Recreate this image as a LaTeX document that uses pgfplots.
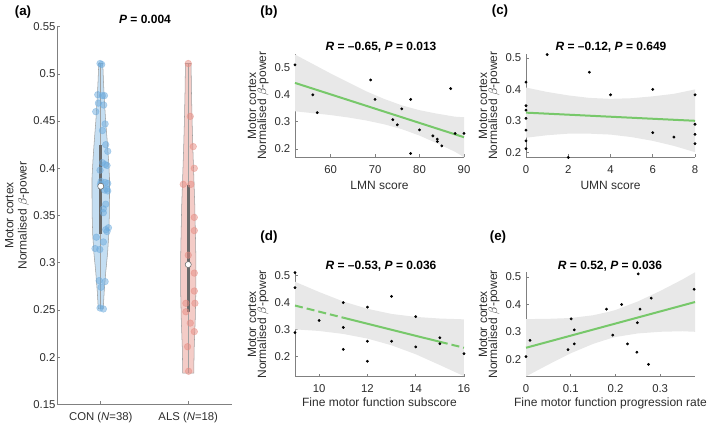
\documentclass[border=0pt]{standalone}
\usepackage{fontspec}
\setmainfont{Liberation Sans}
\usepackage{pgfplots}
\pgfplotsset{compat=1.18}
\definecolor{axgray}{RGB}{128,128,128}
\definecolor{txt}{RGB}{45,45,45}
\definecolor{fitgreen}{RGB}{119,200,106}
\definecolor{bandgray}{RGB}{232,232,232}
\definecolor{conFill}{RGB}{196,222,242}
\definecolor{conDot}{RGB}{110,172,222}
\definecolor{alsFill}{RGB}{244,204,199}
\definecolor{alsDot}{RGB}{232,140,130}
\definecolor{boxgray}{RGB}{105,105,105}
\definecolor{vedge}{RGB}{160,160,160}
\pgfplotsset{
  myax/.style={
    scale only axis, anchor=south west,
    axis x line*=bottom, axis y line*=left,
    tick align=inside, major tick length=2.25pt,
    axis line style={axgray, line width=0.5pt},
    every tick/.style={axgray, line width=0.5pt},
    ticklabel style={font=\fontsize{8.5}{9}\selectfont, text=txt},
    xticklabel style={anchor=base, yshift=-12pt},
    clip=false,
    /pgf/number format/assume math mode=true,
  },
  scat/.style={only marks, mark=*, mark size=0.85pt, color=black},
  fitl/.style={fitgreen, line width=1.5pt},
  bandst/.style={fill=bandgray, draw=none},
  sty/.style={ytick={0.2,0.3,0.4,0.5}, yticklabels={0.2,0.3,0.4,0.5}},
}
\begin{document}
\begin{tikzpicture}
\path[use as bounding box] (0,0) rectangle (531.75pt,318pt);

% (a) violin
\begin{axis}[myax, at={(42.75pt,14.775pt)}, width=131.25pt, height=283.2pt,
  xmin=0.5, xmax=2.5, ymin=0.15, ymax=0.55,
  xtick={1,2}, xticklabels={CON (\textit{N}=38), ALS (\textit{N}=18)},
  ytick={0.15,0.2,0.25,0.3,0.35,0.4,0.45,0.5,0.55},
  yticklabels={0.15,0.2,0.25,0.3,0.35,0.4,0.45,0.5,0.55},
  yticklabel style={inner xsep=1pt}]
\addplot[fill=conFill, draw=vedge, line width=0.4pt] coordinates {
(1.028,0.251) (1.040,0.27) (1.057,0.29) (1.078,0.31) (1.092,0.33) (1.098,0.35) (1.100,0.37) (1.100,0.39) (1.088,0.41) (1.073,0.43) (1.056,0.45) (1.043,0.47) (1.032,0.49) (1.023,0.511)
(0.977,0.511) (0.968,0.49) (0.957,0.47) (0.944,0.45) (0.927,0.43) (0.912,0.41) (0.900,0.39) (0.900,0.37) (0.902,0.35) (0.908,0.33) (0.922,0.31) (0.943,0.29) (0.960,0.27) (0.972,0.251)} -- cycle;
\addplot[fill=alsFill, draw=vedge, line width=0.4pt] coordinates {
(2.063,0.183) (2.068,0.21) (2.080,0.24) (2.087,0.27) (2.088,0.30) (2.082,0.33) (2.075,0.36) (2.064,0.39) (2.053,0.42) (2.044,0.45) (2.037,0.48) (2.032,0.511)
(1.968,0.511) (1.963,0.48) (1.956,0.45) (1.947,0.42) (1.936,0.39) (1.925,0.36) (1.918,0.33) (1.912,0.30) (1.913,0.27) (1.920,0.24) (1.932,0.21) (1.937,0.183)} -- cycle;
\addplot[vedge, line width=0.4pt] coordinates {(1,0.251) (1,0.511)};
\addplot[vedge, line width=0.4pt] coordinates {(2,0.183) (2,0.511)};
\addplot[only marks, mark=*, mark size=2.5pt, color=conDot, opacity=0.5] coordinates {
(0.992,0.511) (1.011,0.510) (0.966,0.478) (1.019,0.477) (1.042,0.477) (0.973,0.469) (1.034,0.467) (0.943,0.460) (1.050,0.447) (1.019,0.440) (1.057,0.425) (1.080,0.418) (1.019,0.406) (1.050,0.404) (1.072,0.403) (0.992,0.398) (1.004,0.386) (1.050,0.385) (1.080,0.384) (0.996,0.383) (1.069,0.378) (1.042,0.377) (1.080,0.376) (1.057,0.362) (1.030,0.357) (1.030,0.353) (1.088,0.337) (1.057,0.335) (1.072,0.333) (0.950,0.327) (1.030,0.322) (0.935,0.315) (0.989,0.314) (0.981,0.281) (1.050,0.280) (1.004,0.274) (0.992,0.252) (1.030,0.251)};
\addplot[only marks, mark=*, mark size=2.5pt, color=alsDot, opacity=0.5] coordinates {
(2.000,0.511) (2.023,0.455) (2.057,0.423) (2.069,0.400) (1.943,0.383) (2.030,0.383) (2.069,0.348) (2.069,0.334) (2.000,0.308) (2.069,0.289) (2.069,0.270) (1.973,0.257) (2.076,0.257) (1.973,0.248) (2.023,0.236) (2.069,0.227) (1.992,0.211) (2.004,0.185)};
\addplot[boxgray, line width=2.25pt] coordinates {(1,0.330) (1,0.425)};
\addplot[boxgray, line width=2.25pt] coordinates {(2,0.248) (2,0.382)};
\addplot[only marks, mark=*, mark size=2.3pt, mark options={fill=white, draw=boxgray, line width=0.4pt}] coordinates {(1,0.381) (2,0.298)};
\end{axis}

% (b) LMN
\begin{axis}[myax, sty, at={(221.25pt,199.875pt)}, width=126.75pt, height=77.625pt,
  xmin=52, xmax=90, ymin=0.168, ymax=0.551,
  xtick={60,70,80,90}, xticklabels={60,70,80,90}]
\addplot[bandst] coordinates {(52,0.549) (56,0.514) (60,0.479) (64,0.446) (68,0.413) (72,0.385) (76,0.361) (80,0.343) (84,0.330) (88,0.319) (90,0.317)
 (90,0.169) (88,0.189) (84,0.220) (80,0.249) (76,0.273) (72,0.291) (68,0.305) (64,0.316) (60,0.325) (56,0.332) (52,0.339)} -- cycle;
\addplot[fitl] coordinates {(52,0.444) (90,0.243)};
\addplot[scat] coordinates {(52,0.511) (56,0.400) (57,0.334) (69,0.455) (70,0.383) (74,0.308) (75,0.289) (76,0.348) (78,0.383) (78,0.183) (80,0.270) (83,0.248) (84,0.236) (84,0.227) (85,0.211) (87,0.423) (88,0.257) (90,0.257)};
\end{axis}

% (c) UMN
\begin{axis}[myax, sty, at={(394.5pt,199.875pt)}, width=126.75pt, height=77.625pt,
  xmin=0, xmax=8, ymin=0.183, ymax=0.513,
  xtick={0,2,4,6,8}, xticklabels={0,2,4,6,8}]
\addplot[bandst] coordinates {(0,0.406) (1,0.392) (2,0.381) (3,0.373) (4,0.370) (5,0.372) (6,0.378) (7,0.386) (8,0.400)
 (8,0.200) (7,0.220) (6,0.236) (5,0.248) (4,0.256) (3,0.259) (2,0.259) (1,0.254) (0,0.246)} -- cycle;
\addplot[fitl] coordinates {(0,0.326) (8,0.300)};
\addplot[scat] coordinates {(1,0.511) (3,0.455) (0,0.423) (0,0.348) (0,0.334) (0,0.308) (0,0.270) (0,0.236) (0,0.211) (2,0.183) (4,0.383) (6,0.400) (6,0.262) (7,0.248) (8,0.383) (8,0.289) (8,0.257) (8,0.227)};
\end{axis}

% (d) Fine motor subscore
\begin{axis}[myax, sty, at={(221.25pt,35.475pt)}, width=126.75pt, height=78.525pt,
  xmin=9, xmax=16, ymin=0.126, ymax=0.513,
  xtick={10,12,14,16}, xticklabels={10,12,14,16}]
\addplot[bandst] coordinates {(9,0.477) (10,0.439) (11,0.404) (12,0.377) (13,0.358) (14,0.347) (15,0.341) (16,0.338)
 (16,0.128) (15,0.169) (14,0.209) (13,0.242) (12,0.267) (11,0.284) (10,0.295) (9,0.301)} -- cycle;
\addplot[fitl, dash pattern=on 6pt off 3pt] coordinates {(9,0.389) (11,0.344)};
\addplot[fitl] coordinates {(11,0.344) (15,0.255)};
\addplot[fitl, dash pattern=on 6pt off 3pt] coordinates {(15,0.255) (16,0.233)};
\addplot[scat] coordinates {(9,0.511) (9,0.455) (9,0.289) (10,0.334) (11,0.400) (11,0.308) (11,0.227) (12,0.383) (12,0.257) (12,0.183) (13,0.423) (13,0.257) (14,0.348) (14,0.236) (15,0.270) (15,0.248) (16,0.211)};
\end{axis}

% (e) progression rate
\begin{axis}[myax, sty, at={(394.5pt,35.475pt)}, width=126.75pt, height=78.525pt,
  xmin=0, xmax=0.378, ymin=0.138, ymax=0.518,
  xtick={0,0.1,0.2,0.3}, xticklabels={0,0.1,0.2,0.3}]
\addplot[bandst] coordinates {(0,0.347) (0.05,0.348) (0.10,0.351) (0.15,0.361) (0.1864,0.374) (0.20,0.380) (0.25,0.411) (0.30,0.449) (0.35,0.491) (0.378,0.517)
 (0.378,0.301) (0.35,0.303) (0.30,0.301) (0.25,0.295) (0.20,0.282) (0.1864,0.276) (0.15,0.257) (0.10,0.223) (0.05,0.182) (0,0.139)} -- cycle;
\addplot[fitl] coordinates {(0,0.243) (0.378,0.409)};
\addplot[scat] coordinates {(0,0.211) (0.009,0.270) (0.094,0.236) (0.101,0.348) (0.108,0.308) (0.108,0.257) (0.180,0.383) (0.194,0.289) (0.214,0.400) (0.227,0.257) (0.248,0.227) (0.249,0.334) (0.251,0.511) (0.255,0.383) (0.274,0.183) (0.280,0.423) (0.376,0.455)};
\end{axis}

\begin{scope}[x=0.75pt, y=-0.75pt, shift={(0pt,318pt)}]
\tikzset{plab/.style={font=\bfseries\fontsize{10}{12}\selectfont},
  ttl/.style={anchor=base, font=\bfseries\fontsize{9}{11}\selectfont},
  lab/.style={anchor=base, font=\fontsize{9}{11}\selectfont, text=txt},
  ylab/.style={lab, rotate=90}}
\node[plab] at (23,12.5) {(a)};
\node[plab] at (269,12.5) {(b)};
\node[plab] at (500,11.5) {(c)};
\node[plab] at (269,237.5) {(d)};
\node[plab] at (498,237.5) {(e)};
\node[ttl] at (145,24) {\textit{P} = 0.004};
\node[ttl] at (381,50.5) {\textit{R} = --0.65, \textit{P} = 0.013};
\node[ttl] at (611,50.5) {\textit{R} = --0.12, \textit{P} = 0.649};
\node[ttl] at (381,270) {\textit{R} = --0.53, \textit{P} = 0.036};
\node[ttl] at (610,270) {\textit{R} = 0.52, \textit{P} = 0.036};
\node[ylab] at (13.3,215.5) {Motor cortex};
\node[ylab] at (26.7,215.5) {Normalised $\beta$-power};
\node[ylab] at (256,105.75) {Motor cortex};
\node[ylab] at (266,105.75) {Normalised $\beta$-power};
\node[ylab] at (487,105.75) {Motor cortex};
\node[ylab] at (497,105.75) {Normalised $\beta$-power};
\node[ylab] at (256,324.35) {Motor cortex};
\node[ylab] at (266,324.35) {Normalised $\beta$-power};
\node[ylab] at (487,324.35) {Motor cortex};
\node[ylab] at (497,324.35) {Normalised $\beta$-power};
\node[lab] at (379.5,189.5) {LMN score};
\node[lab] at (610.5,189.5) {UMN score};
\node[lab] at (379.5,407) {Fine motor function subscore};
\node[lab] at (610.5,407) {Fine motor function progression rate};
\end{scope}
\end{tikzpicture}
\end{document}
